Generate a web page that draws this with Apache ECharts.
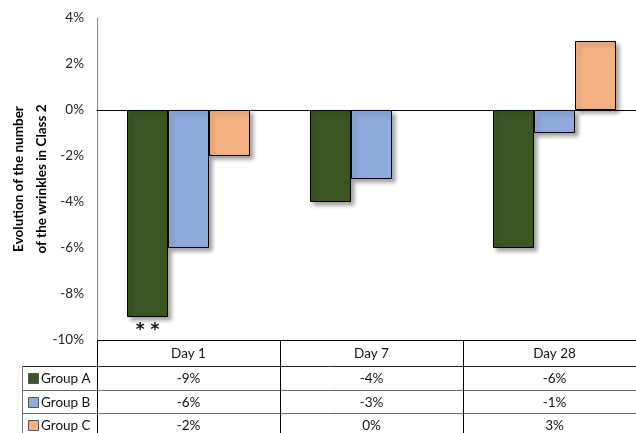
<!DOCTYPE html>
<html>
<head>
<meta charset="utf-8">
<script src="https://cdn.jsdelivr.net/npm/echarts@6/dist/echarts.min.js"></script>
<style>
  html, body { margin: 0; padding: 0; background: #fff; }
  #chart { width: 636px; height: 433px; }
</style>
</head>
<body>
<div id="chart"></div>
<script>
// Change in wrinkle count (Class 2), percent, per visit
const days = ['Day 1', 'Day 7', 'Day 28'];
const groupNames = ['Group A', 'Group B', 'Group C'];
const groupA = [-9, -4, -6];
const groupB = [-6, -3, -1];
const groupC = [-2, 0, 3];
const groupColors = ['#3B5623', '#8FAADC', '#F4B183'];
const yTicks = { min: -10, max: 4, step: 2 };
const significance = { day: 'Day 1', group: 0, mark: '* *' };

const FONT = 'Lato, "Open Sans", sans-serif';
const seriesValues = [groupA, groupB, groupC];

const chart = echarts.init(document.getElementById('chart'), null, { renderer: 'canvas' });

const barStyle = color => ({
  color,
  borderColor: '#000',
  borderWidth: 1,
  shadowBlur: 4,
  shadowOffsetX: 3,
  shadowOffsetY: 3,
  shadowColor: 'rgba(0,0,0,0.35)'
});

const option = {
  animation: false,
  backgroundColor: '#ffffff',
  // plot continues a little past the right edge of the canvas
  grid: { left: 97, width: 549, top: 18, height: 322, containLabel: false, outerBoundsMode: 'none' },
  xAxis: {
    type: 'category',
    data: days,
    axisLine: { onZero: true, lineStyle: { color: '#000', width: 1 } },
    axisTick: { show: false },
    axisLabel: { show: false },
    splitLine: { show: false },
    z: 5
  },
  yAxis: {
    type: 'value',
    min: yTicks.min,
    max: yTicks.max,
    interval: yTicks.step,
    name: 'Evolution of the number\nof the wrinkles in Class 2',
    nameLocation: 'middle',
    nameRotate: 90,
    nameGap: 44,
    nameMoveOverlap: false,
    nameTextStyle: { fontFamily: FONT, fontWeight: 'bold', fontSize: 13.5, color: '#000', lineHeight: 23 },
    axisLine: { show: true, lineStyle: { color: '#8c8c8c', width: 1 } },
    axisTick: { show: false },
    splitLine: { show: false },
    axisLabel: {
      fontFamily: FONT, fontSize: 13.5, color: '#222', margin: 13,
      formatter: v => v + '%'
    }
  },
  series: seriesValues.map((vals, i) => ({
    name: groupNames[i],
    type: 'bar',
    // a zero change leaves no visible bar
    data: vals.map(v => v === 0
      ? { value: v, itemStyle: { borderWidth: 0, shadowBlur: 0, shadowOffsetX: 0, shadowOffsetY: 0, opacity: 0 } }
      : v),
    barWidth: 41,
    barGap: '0%',
    itemStyle: barStyle(groupColors[i])
  }))
};
chart.setOption(option);

// Data table under the plot, aligned to the category bands
function buildTable() {
  const centers = days.map(d => chart.convertToPixel({ xAxisIndex: 0 }, d));
  const band = centers[1] - centers[0];
  const left = centers[0] - band / 2;
  const right = centers[centers.length - 1] + band / 2;
  const yBottom = chart.convertToPixel({ yAxisIndex: 0 }, yTicks.min);
  const rowTops = [yBottom, yBottom + 26, yBottom + 50, yBottom + 73, yBottom + 97];
  const legendLeft = 22;
  const els = [];
  const line = (x1, y1, x2, y2, color) => els.push({
    type: 'line', shape: { x1, y1, x2, y2 },
    style: { stroke: color, lineWidth: 1 }, z: 10
  });
  const text = (x, y, str, align) => els.push({
    type: 'text', x, y,
    style: { text: str, font: '13.5px ' + FONT, fill: '#111', align: align || 'center', verticalAlign: 'middle' },
    z: 11
  });

  // horizontal rules
  line(left, rowTops[0] + 0.5, right, rowTops[0] + 0.5, '#000');
  line(legendLeft, rowTops[1] + 0.5, right, rowTops[1] + 0.5, '#222');
  line(legendLeft, rowTops[2] + 0.5, right, rowTops[2] + 0.5, '#666');
  line(legendLeft, rowTops[3] + 0.5, right, rowTops[3] + 0.5, '#666');
  // vertical rules
  line(legendLeft + 0.5, rowTops[1], legendLeft + 0.5, 440, '#777');
  for (let k = 0; k <= days.length; k++) {
    const x = Math.round(left + k * band) + 0.5;
    line(x, rowTops[0], x, 440, '#000');
  }
  // column headers
  days.forEach((d, k) => text(centers[k], (rowTops[0] + rowTops[1]) / 2 + 1, d));
  // group rows
  seriesValues.forEach((vals, i) => {
    const cy = (rowTops[i + 1] + rowTops[i + 2]) / 2 + 1;
    els.push({
      type: 'rect', shape: { x: 28.5, y: Math.round(cy) - 5.5, width: 10, height: 10 },
      style: { fill: groupColors[i], stroke: '#555', lineWidth: 1 }, z: 11
    });
    text(41, cy, groupNames[i], 'left');
    vals.forEach((v, k) => text(centers[k], cy, v + '%'));
  });
  // significance marker under the bar
  const sIdx = days.indexOf(significance.day);
  const barCenter = centers[sIdx] + (significance.group - 1) * 41;
  const val = seriesValues[significance.group][sIdx];
  const py = chart.convertToPixel({ yAxisIndex: 0 }, val);
  els.push({
    type: 'text', x: barCenter, y: py + 5,
    style: { text: significance.mark, font: 'bold 17px "DejaVu Sans", sans-serif', fill: '#111', align: 'center', verticalAlign: 'top' },
    z: 11
  });
  chart.setOption({ graphic: { elements: els } });
}
buildTable();
</script>
</body>
</html>
